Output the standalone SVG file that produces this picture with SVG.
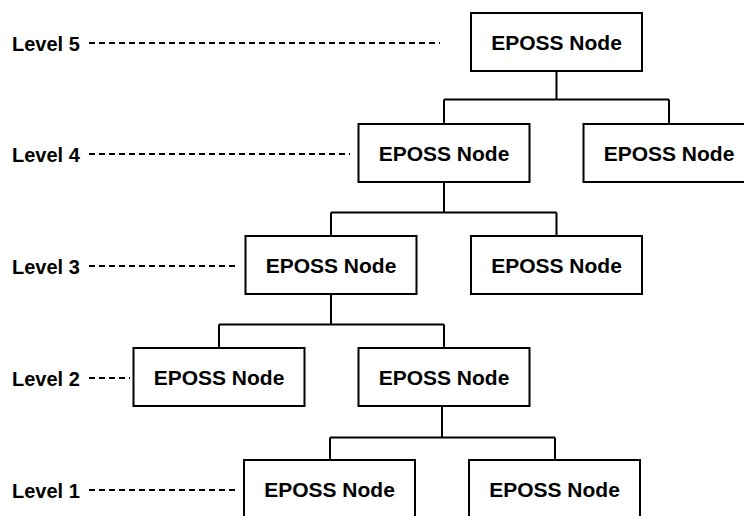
<svg xmlns="http://www.w3.org/2000/svg" width="744" height="516" viewBox="0 0 744 516">
<style>
.box{fill:#fff;stroke:#000;stroke-width:2}
.nt{font-family:"Liberation Sans",Arial,sans-serif;font-weight:bold;font-size:21px;fill:#000;text-anchor:middle}
.lv{font-family:"Liberation Sans",Arial,sans-serif;font-weight:bold;font-size:20px;fill:#000}
.con{fill:none;stroke:#000;stroke-width:2}
.dash{stroke:#000;stroke-width:2;stroke-dasharray:6 4}
</style>
<rect width="744" height="516" fill="#fff"/>
<g id="levels">
<text class="lv" x="12" y="51">Level 5</text>
<line class="dash" x1="89" y1="43" x2="440" y2="43"/>
<text class="lv" x="12" y="162">Level 4</text>
<line class="dash" x1="89" y1="154" x2="350" y2="154"/>
<text class="lv" x="12" y="274">Level 3</text>
<line class="dash" x1="89" y1="266" x2="236" y2="266"/>
<text class="lv" x="12" y="386">Level 2</text>
<line class="dash" x1="89" y1="378" x2="130" y2="378"/>
<text class="lv" x="12" y="498">Level 1</text>
<line class="dash" x1="89" y1="490" x2="236" y2="490"/>
</g>
<g id="connectors">
<path class="con" d="M556.5 72 V99.5 M444 99.5 H669 M444 99.5 V124 M669 99.5 V124"/>
<path class="con" d="M444 182 V212.5 M331 212.5 H556.5 M331 212.5 V236 M556.5 212.5 V236"/>
<path class="con" d="M331 294 V324.5 M219 324.5 H444 M219 324.5 V348 M444 324.5 V348"/>
<path class="con" d="M442 406 V437.5 M330 437.5 H555 M330 437.5 V460 M555 437.5 V460"/>
</g>
<g id="n5"><rect class="box" x="471" y="13" width="171" height="58"/><text class="nt" x="556.5" y="49.5">EPOSS Node</text></g>
<g id="n4a"><rect class="box" x="358.5" y="124" width="171" height="58"/><text class="nt" x="444" y="160.5">EPOSS Node</text></g>
<g id="n4b"><rect class="box" x="583.5" y="124" width="171" height="58"/><text class="nt" x="669" y="160.5">EPOSS Node</text></g>
<g id="n3a"><rect class="box" x="245.5" y="236" width="171" height="58"/><text class="nt" x="331" y="272.5">EPOSS Node</text></g>
<g id="n3b"><rect class="box" x="471" y="236" width="171" height="58"/><text class="nt" x="556.5" y="272.5">EPOSS Node</text></g>
<g id="n2a"><rect class="box" x="133.5" y="348" width="171" height="58"/><text class="nt" x="219" y="384.5">EPOSS Node</text></g>
<g id="n2b"><rect class="box" x="358.5" y="348" width="171" height="58"/><text class="nt" x="444" y="384.5">EPOSS Node</text></g>
<g id="n1a"><rect class="box" x="244" y="460" width="171" height="58"/><text class="nt" x="329.5" y="496.5">EPOSS Node</text></g>
<g id="n1b"><rect class="box" x="469" y="460" width="171" height="58"/><text class="nt" x="554.5" y="496.5">EPOSS Node</text></g>
</svg>
